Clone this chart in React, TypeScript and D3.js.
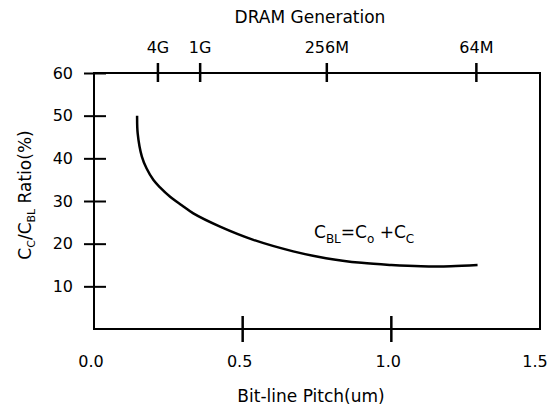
import { useEffect, useRef } from 'react';
import * as d3 from 'd3';

// bit-line pitch (um) vs coupling ratio (%)
const pitch = [0.145, 0.147, 0.161, 0.177, 0.2, 0.222, 0.256, 0.295, 0.334, 0.424, 0.536, 0.67, 0.78, 0.9, 1.0, 1.1, 1.2, 1.29];
const ratio = [50, 45.8, 40.4, 37.6, 34.9, 33.2, 31, 29, 27.1, 24, 20.9, 18.2, 16.6, 15.5, 15, 14.7, 14.7, 15];

const yTicks = [10, 20, 30, 40, 50, 60];
const xTickMarks = [0.5, 1.0];
const xTickLabels = [0, 0.5, 1.0, 1.5];

const genNames = ['4G', '1G', '256M', '64M'];
const genPitch = [0.215, 0.357, 0.783, 1.286];

const App = () => {
    const svgRef = useRef<SVGSVGElement>(null);

    useEffect(() => {
        const W = 550, H = 414;
        const left = 94, right = 540, top = 73, bottom = 329;
        const font = '"DejaVu Sans", "Liberation Sans", sans-serif';

        const svg = d3.select(svgRef.current);
        svg.selectAll('*').remove();
        svg.attr('width', W).attr('height', H);

        const x = d3.scaleLinear().domain([0, 1.5]).range([left, right]);
        const y = d3.scaleLinear().domain([0, 60]).range([bottom, top]);

        // frame
        svg.append('rect')
            .attr('x', left).attr('y', top)
            .attr('width', right - left).attr('height', bottom - top)
            .attr('fill', 'none').attr('stroke', '#000').attr('stroke-width', 2);

        // left axis
        const yAxis = svg.append('g')
            .attr('transform', `translate(${left},0)`)
            .call(d3.axisLeft(y).tickValues(yTicks).tickSize(10).tickPadding(11).tickFormat(d3.format('d')));
        yAxis.select('.domain').remove();
        yAxis.selectAll('.tick line').attr('x1', 12).attr('stroke-width', 2);
        yAxis.selectAll('.tick text')
            .style('font-family', font).style('font-size', '16px').attr('fill', '#000');

        // bottom axis: marks
        svg.selectAll('.xmark')
            .data(xTickMarks)
            .enter().append('line')
            .attr('x1', d => x(d)).attr('x2', d => x(d))
            .attr('y1', bottom - 13).attr('y2', bottom + 13)
            .attr('stroke', '#000').attr('stroke-width', 2.5);

        svg.selectAll('.xlabel')
            .data(xTickLabels)
            .enter().append('text')
            .attr('x', d => x(d) - (d === 1.5 ? 5 : 3)).attr('y', 367)
            .attr('text-anchor', 'middle')
            .style('font-family', font).style('font-size', '16px')
            .text(d => d3.format('.1f')(d));

        // top axis: DRAM generation
        svg.selectAll('.gmark')
            .data(genPitch)
            .enter().append('line')
            .attr('x1', d => x(d)).attr('x2', d => x(d))
            .attr('y1', top - 10).attr('y2', top + 9)
            .attr('stroke', '#000').attr('stroke-width', 2.5);

        svg.selectAll('.glabel')
            .data(genPitch)
            .enter().append('text')
            .attr('x', d => x(d)).attr('y', 53)
            .attr('text-anchor', 'middle')
            .style('font-family', font).style('font-size', '16px')
            .text((d, i) => genNames[i]);

        svg.append('text')
            .attr('x', 310).attr('y', 23)
            .attr('text-anchor', 'middle')
            .style('font-family', font).style('font-size', '17px')
            .text('DRAM Generation');

        // x title
        svg.append('text')
            .attr('x', 311).attr('y', 402)
            .attr('text-anchor', 'middle')
            .style('font-family', font).style('font-size', '17px')
            .text('Bit-line Pitch(um)');

        // y title with subscripts
        const yt = svg.append('text')
            .attr('transform', 'translate(31,195) rotate(-90)')
            .attr('text-anchor', 'middle')
            .style('font-family', font).style('font-size', '17px');
        yt.append('tspan').text('C');
        yt.append('tspan').attr('dy', 4).style('font-size', '11px').text('C');
        yt.append('tspan').attr('dy', -4).text('/C');
        yt.append('tspan').attr('dy', 4).style('font-size', '11px').text('BL');
        yt.append('tspan').attr('dy', -4).text(' Ratio(%)');

        // curve
        const pts = pitch.map((p, i) => [p, ratio[i]] as [number, number]);
        const line = d3.line<[number, number]>()
            .x(d => x(d[0]))
            .y(d => y(d[1]))
            .curve(d3.curveCatmullRom.alpha(0.5));
        svg.append('path')
            .attr('d', line(pts))
            .attr('fill', 'none')
            .attr('stroke', '#000')
            .attr('stroke-width', 2.5);

        // annotation
        const ann = svg.append('text')
            .attr('x', 314).attr('y', 238)
            .style('font-family', font).style('font-size', '17px');
        ann.append('tspan').text('C');
        ann.append('tspan').attr('dy', 5).style('font-size', '12px').text('BL');
        ann.append('tspan').attr('dy', -5).text('=C');
        ann.append('tspan').attr('dy', 5).style('font-size', '12px').text('o');
        ann.append('tspan').attr('dy', -5).text('  +C');
        ann.append('tspan').attr('dy', 5).style('font-size', '12px').text('C');
    }, []);

    return (
        <svg ref={svgRef} style={{ position: 'absolute', left: 0, top: 0 }}></svg>
    );
};

export default App;
